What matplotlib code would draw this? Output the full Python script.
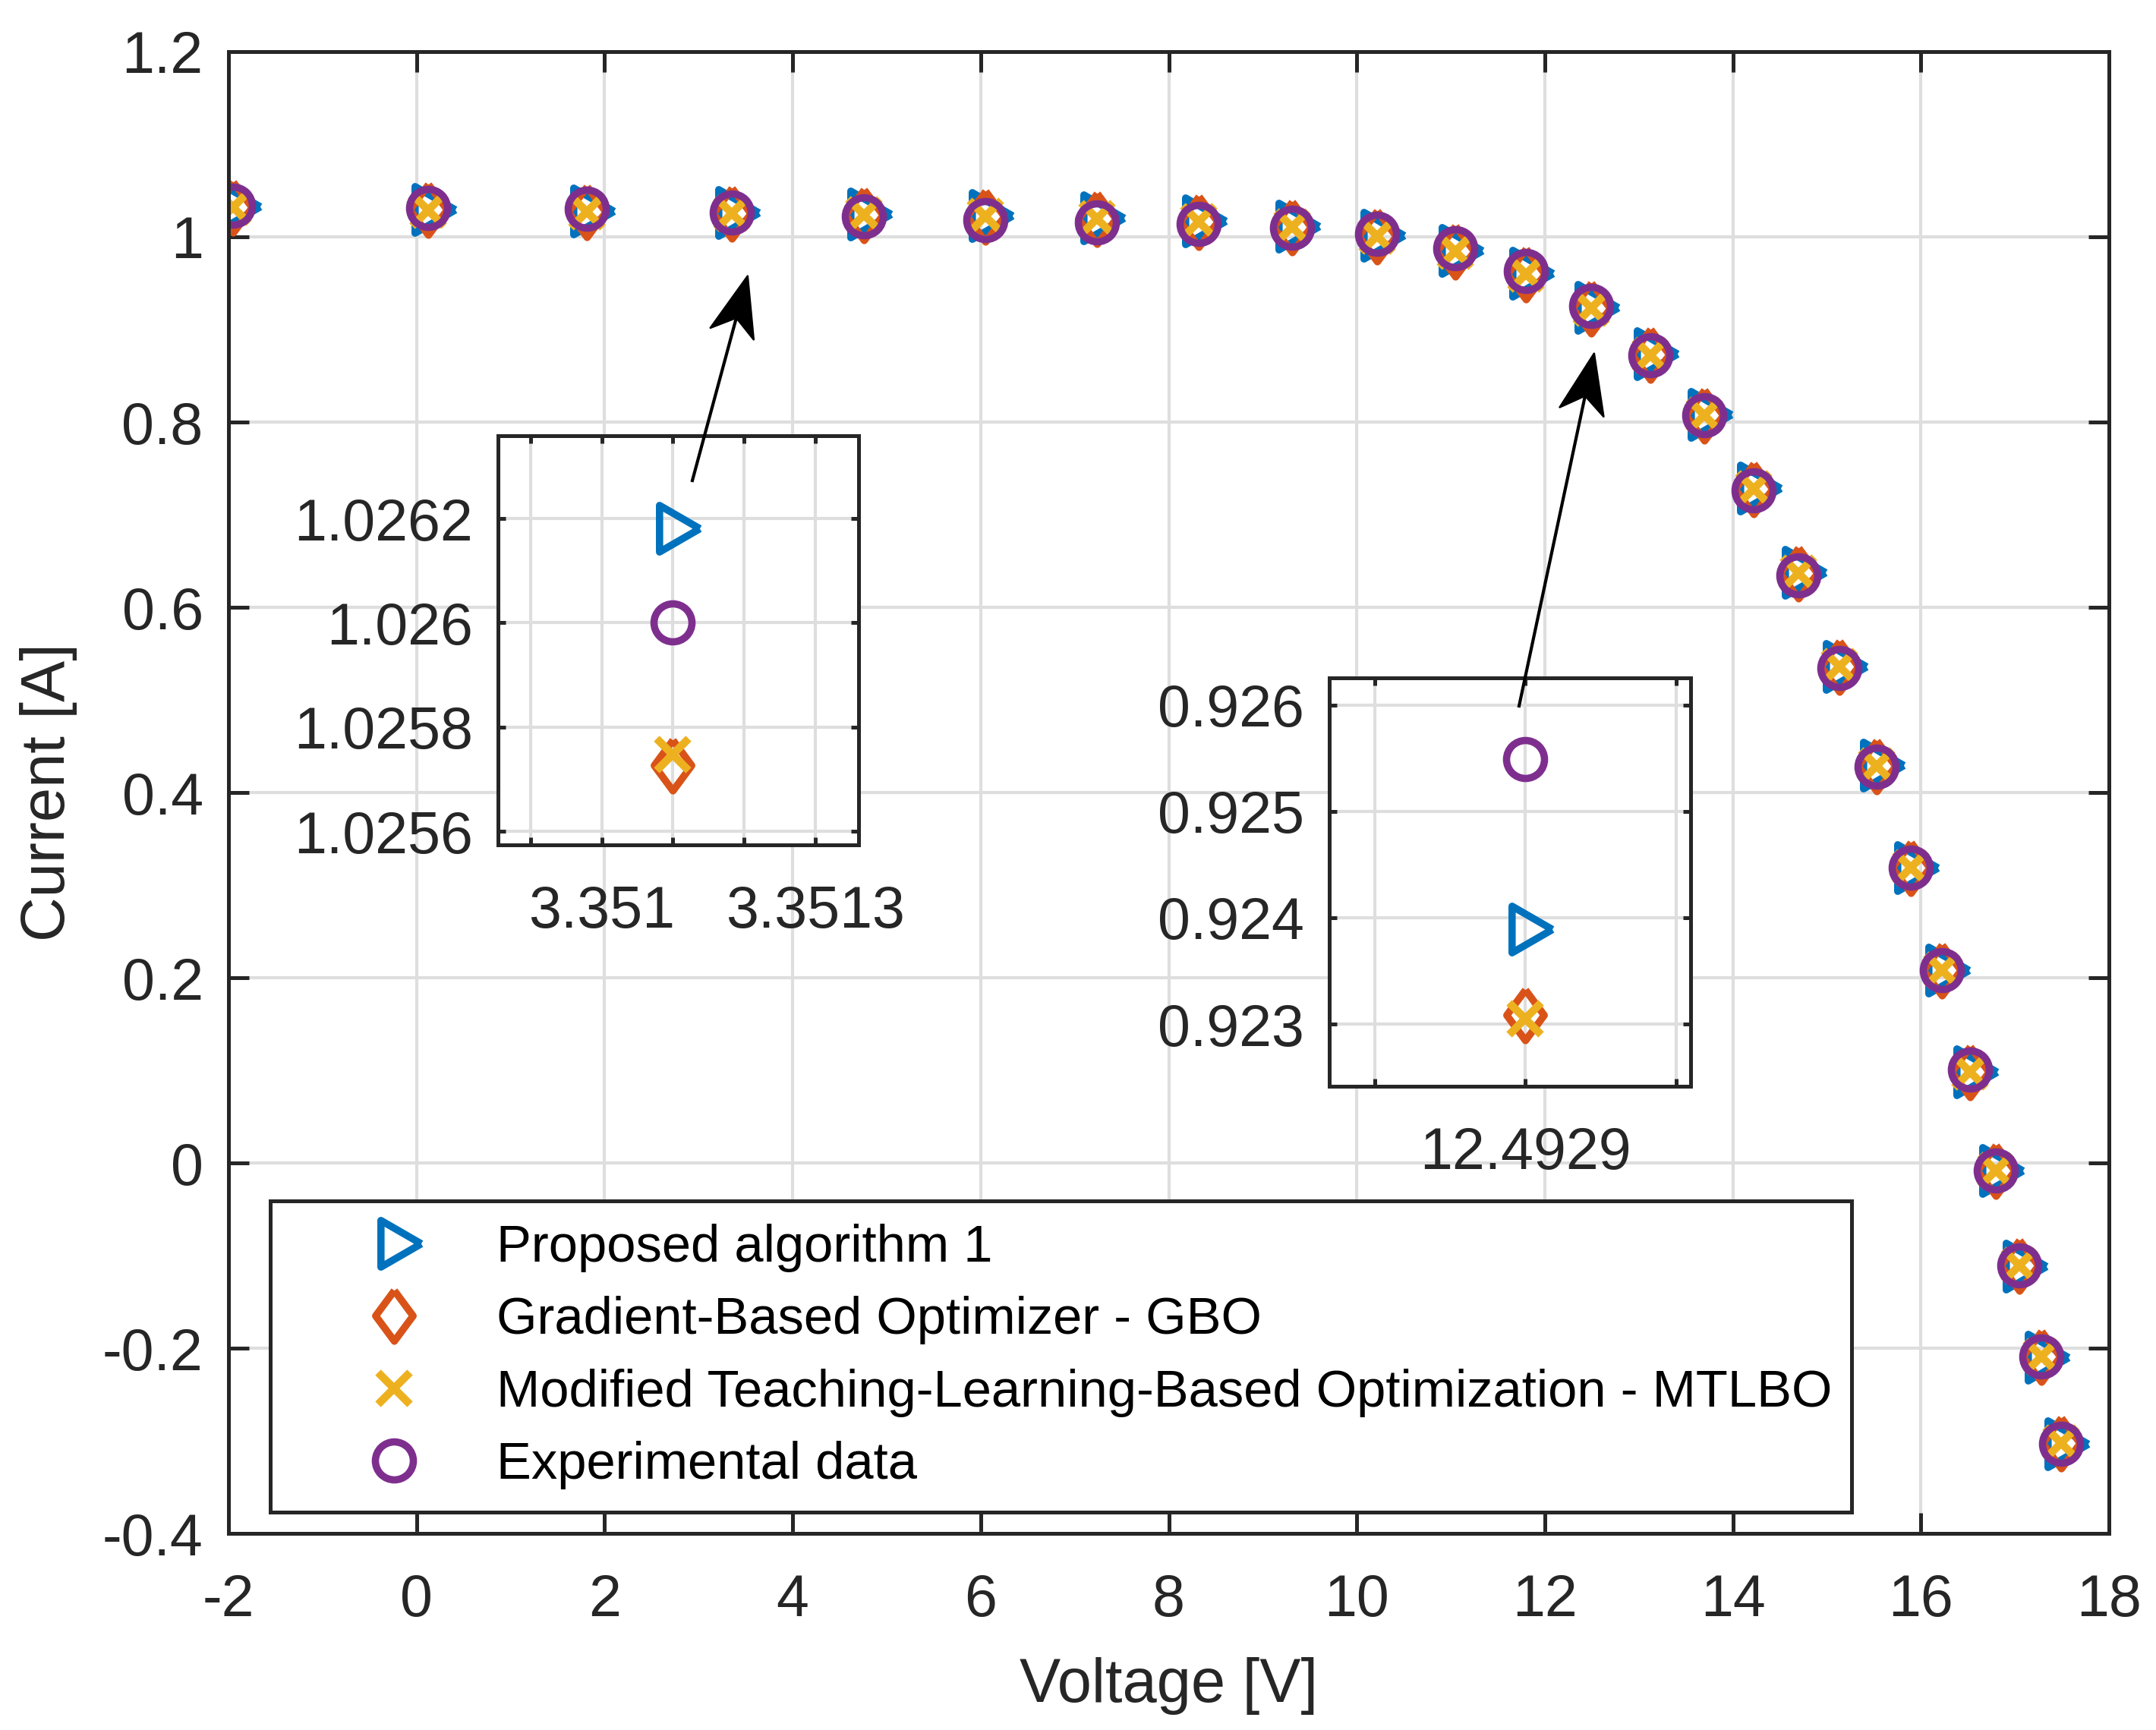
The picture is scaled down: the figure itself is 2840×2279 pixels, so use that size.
import numpy as np
import matplotlib
matplotlib.use("Agg")
import matplotlib.pyplot as plt
from matplotlib.markers import MarkerStyle
from matplotlib.patches import Polygon

plt.rcParams['font.family'] = ['Liberation Sans', 'DejaVu Sans']

# ---------------- data ----------------
voltage = [-1.95, 0.1248, 1.8093, 3.3511, 4.7622, 6.0538, 7.2364, 8.3189, 9.3097,
           10.2163, 11.0449, 11.8018, 12.4929, 13.1231, 13.6983, 14.2221, 14.6995,
           15.1346, 15.5311, 15.8929, 16.2229, 16.5241, 16.7987, 17.0499, 17.2793, 17.4885]
i_exp = [1.0340, 1.0315, 1.0300, 1.0260, 1.0220, 1.0180, 1.0155, 1.0140, 1.0100,
         1.0035, 0.9880, 0.9630, 0.92549, 0.8725, 0.8075, 0.7265, 0.6345, 0.5345,
         0.4275, 0.3185, 0.2085, 0.1010, -0.0080, -0.1110, -0.2090, -0.3030]
i_proposed = [1.0324, 1.0295, 1.0278, 1.026182, 1.0245, 1.0228, 1.0205, 1.0170, 1.0112,
              1.0016, 0.9854, 0.9604, 0.923895, 0.8735, 0.8082, 0.7287, 0.6377, 0.5363,
              0.4292, 0.3189, 0.2079, 0.0982, -0.0085, -0.1114, -0.2096, -0.3029]
i_gbo = [1.0320, 1.0291, 1.0274, 1.025727, 1.0241, 1.0223, 1.0199, 1.0164, 1.0105,
         1.0008, 0.9846, 0.9595, 0.923083, 0.8726, 0.8073, 0.7279, 0.6370, 0.5357,
         0.4288, 0.3187, 0.2079, 0.0984, -0.0082, -0.1110, -0.2092, -0.3024]
i_mtlbo = [1.0319, 1.0290, 1.0273, 1.025747, 1.0241, 1.0223, 1.0200, 1.0164, 1.0106,
           1.0009, 0.9847, 0.9596, 0.923048, 0.8725, 0.8072, 0.7278, 0.6369, 0.5357,
           0.4288, 0.3187, 0.2080, 0.0984, -0.0081, -0.1109, -0.2091, -0.3023]

labels = ['Proposed algorithm 1', 'Gradient-Based Optimizer - GBO',
          'Modified Teaching-Learning-Based Optimization - MTLBO', 'Experimental data']

x_ticks = [-2, 0, 2, 4, 6, 8, 10, 12, 14, 16, 18]
y_ticks = [-0.4, -0.2, 0, 0.2, 0.4, 0.6, 0.8, 1.0, 1.2]
y_ticklabels = ['-0.4', '-0.2', '0', '0.2', '0.4', '0.6', '0.8', '1', '1.2']

inset1_x = 3.3511
inset1_xticks = [3.3509, 3.3510, 3.3511, 3.3512, 3.3513]
inset1_xticklabels = ['', '3.351', '', '', '3.3513']
inset1_yticks = [1.0256, 1.0258, 1.0260, 1.0262]
inset1_yticklabels = ['1.0256', '1.0258', '1.026', '1.0262']
inset1_xlim = (3.350854, 3.351361)
inset1_ylim = (1.025574, 1.026359)

inset2_x = 12.4929
inset2_xticks = [12.4928, 12.4929, 12.4930]
inset2_xticklabels = ['', '12.4929', '']
inset2_yticks = [0.923, 0.924, 0.925, 0.926]
inset2_yticklabels = ['0.923', '0.924', '0.925', '0.926']
inset2_xlim = (12.492770, 12.4930095)
inset2_ylim = (0.922415, 0.926255)

# ---------------- style ----------------
C_BLUE, C_ORANGE, C_YELLOW, C_PURPLE = '#0072BD', '#D95319', '#EDB120', '#7E2F8E'
AX_COL = '#262626'
GRID_COL = '#dedede'
FS = 18.5

tri = MarkerStyle([(1, 0), (-0.5, 0.866), (-0.5, -0.866), (1, 0)], joinstyle='miter')
dia = MarkerStyle([(0, 1), (0.74, 0), (0, -1), (-0.74, 0), (0, 1)], joinstyle='miter')

styles = [
    dict(marker=tri, ms=17, mew=2.3, mec=C_BLUE, mfc='none'),
    dict(marker=dia, ms=16, mew=2.3, mec=C_ORANGE, mfc='none'),
    dict(marker='x', ms=10, mew=2.5, mec=C_YELLOW, mfc='none'),
    dict(marker='o', ms=12, mew=2.3, mec=C_PURPLE, mfc='none'),
]

W, H = 2840, 2279
fig = plt.figure(figsize=(W / 300, H / 300), dpi=300)


def style_axes(ax, ticklen):
    for s in ax.spines.values():
        s.set_color(AX_COL)
        s.set_linewidth(1.2)
    ax.tick_params(direction='in', top=True, right=True, length=ticklen, width=1.2,
                   colors=AX_COL, labelsize=FS, labelcolor=AX_COL)
    ax.tick_params(axis='x', pad=12.5)
    ax.tick_params(axis='y', pad=8)
    ax.grid(True, color=GRID_COL, linewidth=1.0)
    ax.set_axisbelow(True)


# main axes
ax = fig.add_axes([301 / W, 1 - 2020 / H, (2778 - 301) / W, (2020 - 68) / H])
series = [i_proposed, i_gbo, i_mtlbo, i_exp]
handles = []
for yv, st, lab in zip(series, styles, labels):
    h, = ax.plot(voltage, yv, linestyle='none', label=lab, **st)
    handles.append(h)
ax.set_xlim(-2, 18)
ax.set_ylim(-0.4, 1.2)
ax.set_xticks(x_ticks)
ax.set_xticklabels([str(t) for t in x_ticks])
ax.set_yticks(y_ticks)
ax.set_yticklabels(y_ticklabels)
style_axes(ax, 6.4)
ax.set_xlabel('Voltage [V]', fontsize=19.5, color=AX_COL, labelpad=9)
ax.set_ylabel('Current [A]', fontsize=19.5, color=AX_COL, labelpad=8)

leg = ax.legend(handles=handles, loc='upper left',
                bbox_to_anchor=(356 / W, 0.05, (2439 - 356) / W, 1 - 1582 / H - 0.05),
                bbox_transform=fig.transFigure, mode='expand', borderaxespad=0,
                fontsize=16.5, numpoints=1, fancybox=False, framealpha=1,
                edgecolor=AX_COL, borderpad=0.43, handlelength=3.89, handletextpad=0.02,
                labelspacing=0.46)
leg.get_frame().set_linewidth(1.2)
for t in leg.get_texts():
    t.set_color('black')

# insets
def make_inset(rect, xv, idx_series, xlim, ylim, xt, xtl, yt, ytl):
    a = fig.add_axes(rect)
    for yv, st in zip(idx_series, styles):
        a.plot([xv], [yv], linestyle='none', **st)
    a.set_xlim(*xlim)
    a.set_ylim(*ylim)
    a.set_xticks(xt)
    a.set_xticklabels(xtl)
    a.set_yticks(yt)
    a.set_yticklabels(ytl)
    style_axes(a, 2.5)
    return a

k1 = voltage.index(inset1_x)
k2 = voltage.index(inset2_x)
make_inset([656 / W, 1 - 1113 / H, (1131 - 656) / W, (1113 - 574) / H], inset1_x,
           [s[k1] for s in series], inset1_xlim, inset1_ylim,
           inset1_xticks, inset1_xticklabels, inset1_yticks, inset1_yticklabels)
make_inset([1751 / W, 1 - 1431 / H, (2227 - 1751) / W, (1431 - 893) / H], inset2_x,
           [s[k2] for s in series], inset2_xlim, inset2_ylim,
           inset2_xticks, inset2_xticklabels, inset2_yticks, inset2_yticklabels)

# annotation arrows (figure pixel coords, origin top-left -> convert)
def arrow(tail, tip):
    t0 = np.array([tail[0], H - tail[1]], float)
    t1 = np.array([tip[0], H - tip[1]], float)
    d = t1 - t0
    L = np.linalg.norm(d)
    u = d / L
    n = np.array([-u[1], u[0]])
    head_len, head_w, notch = 80.0, 30.0, 58.0
    base = t1 - u * head_len
    notch_pt = t1 - u * notch
    fig.add_artist(plt.Line2D([t0[0] / W, notch_pt[0] / W], [t0[1] / H, notch_pt[1] / H],
                              transform=fig.transFigure, color='black', linewidth=1.0,
                              zorder=5))
    pts = np.array([t1, base + n * head_w, notch_pt, base - n * head_w])
    pts = pts / np.array([W, H])
    fig.add_artist(Polygon(pts, closed=True, transform=fig.transFigure,
                           facecolor='black', edgecolor='black', linewidth=0.5, zorder=6))

arrow((912, 633), (985, 363))
arrow((2001, 930), (2100, 465))

fig.savefig('out.png', dpi=300)
